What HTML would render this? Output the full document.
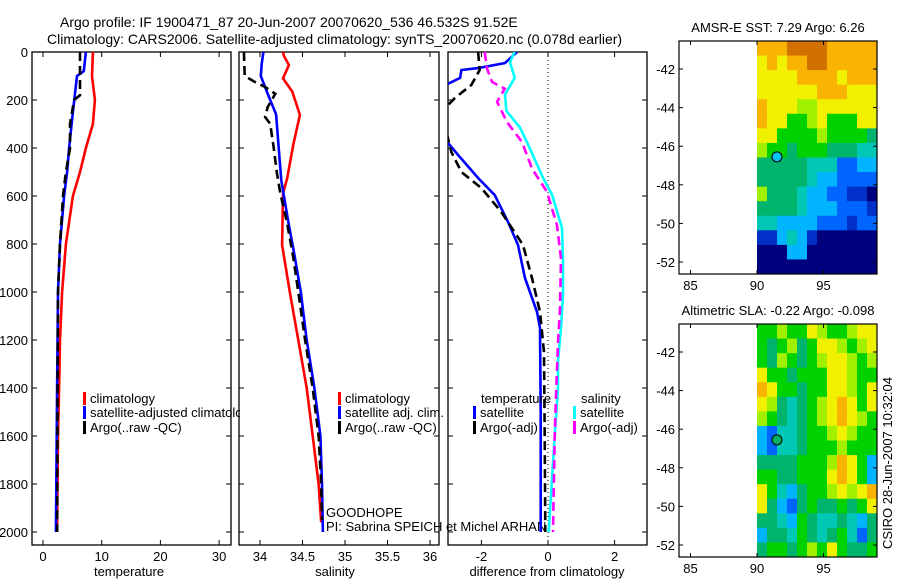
<!DOCTYPE html>
<html><head><meta charset="utf-8">
<style>
body{margin:0;background:#fff;}
svg{display:block;font-family:"Liberation Sans",sans-serif;}
text{fill:#000;}
</style></head>
<body>
<svg id="fig" width="900" height="580" viewBox="0 0 900 580" xmlns="http://www.w3.org/2000/svg">
<defs>
<clipPath id="c1"><rect x="32" y="52" width="199" height="493"/></clipPath>
<clipPath id="c2"><rect x="239" y="52" width="200" height="493"/></clipPath>
<clipPath id="c3"><rect x="448" y="52" width="199" height="493"/></clipPath>
<clipPath id="c1t"><rect x="32" y="0" width="208" height="580"/></clipPath>
</defs>
<text x="60" y="27" font-size="14">Argo profile: IF 1900471_87 20-Jun-2007 20070620_536 46.532S 91.52E</text>
<text x="47" y="44" font-size="14">Climatology: CARS2006. Satellite-adjusted climatology: synTS_20070620.nc (0.078d earlier)</text>
<g id="g1"></g>
<g id="g2"></g>
<g id="g3"></g>
<g id="m1"></g>
<g id="m2"></g>
<text transform="translate(892,463) rotate(-90)" text-anchor="middle" font-size="13">CSIRO 28-Jun-2007 10:32:04</text>
</svg>
<script>
// ---- data ----
const depthTicks=[0,200,400,600,800,1000,1200,1400,1600,1800,2000];
const tTicks=[0,10,20,30];
const sTicks=[34,34.5,35,35.5,36];
const sTickLabels=["34","34.5","35","35.5","36"];
const dTicks=[-2,0,2];

const tClimD=[0,100,200,300,400,500,600,800,1000,1200,1400,1600,2000];
const tClimV=[8.5,8.35,8.85,8.5,7.3,6.3,5.1,3.9,3.25,2.9,2.75,2.55,2.4];
const tSatD=[0,80,100,250,400,500,600,800,1000,1400,2000];
const tSatV=[7.3,6.95,5.8,5.1,4.45,4.1,3.6,2.9,2.55,2.4,2.2];
const tArgoD=[0,180,200,300,400,500,600,800,1000,2000];
const tArgoV=[6.3,6.3,5.3,4.6,4.6,3.9,3.4,2.9,2.55,2.4];

const sClimD=[0,15,54,110,165,262,388,526,590,804,1000,1200,1400,1600,1800,1960];
const sClimV=[34.27,34.28,34.34,34.27,34.38,34.47,34.39,34.32,34.27,34.26,34.35,34.45,34.55,34.62,34.69,34.72];
const sSatD=[0,50,100,174,260,400,535,700,854,1000,1200,1400,1600,1800,2000];
const sSatV=[34.04,34.02,34.01,34.09,34.19,34.22,34.25,34.33,34.41,34.48,34.55,34.64,34.71,34.73,34.74];
const sArgoD=[0,100,125,146,174,229,271,299,396,507,590,715,854,1000,1200,1400,1600,1800,1950];
const sArgoV=[33.81,33.82,33.94,34.06,34.18,34.09,34.06,34.12,34.16,34.2,34.24,34.32,34.39,34.45,34.53,34.62,34.69,34.72,34.73];

const dTSatD=[0,46,67,75,108,146,346,429,525,596,708,804,942,1083,1150,1500,2000];
const dTSatV=[-0.93,-1.29,-2.1,-2.6,-2.64,-3.2,-3.2,-2.7,-2.1,-1.6,-1.2,-0.9,-0.69,-0.33,-0.24,-0.22,-0.22];
const dTArgoD=[0,75,137,192,250,417,500,567,667,804,942,1083,1250,1600,2000];
const dTArgoV=[-2.1,-2.05,-2.3,-2.8,-3.2,-2.9,-2.6,-2.0,-1.4,-0.75,-0.48,-0.24,-0.12,-0.1,-0.08];
const dSSatD=[0,42,108,177,246,315,385,524,594,733,871,1010,1150,1288,1400,1600,2000];
const dSSatV=[-1.0,-1.14,-1.0,-1.29,-1.25,-0.84,-0.6,-0.15,0.12,0.42,0.45,0.45,0.39,0.3,0.3,0.2,0.02];
const dSArgoD=[0,70,125,153,208,292,375,486,583,722,861,1069,1208,1400,1600,2000];
const dSArgoV=[-1.9,-1.83,-1.68,-1.3,-1.53,-1.23,-0.78,-0.48,-0.03,0.27,0.39,0.36,0.3,0.25,0.2,0.15];

const sstGrid=[
[9,9,9,10,10,10,10,9,9,9,9,9],
[8,9,8,9,9,10,10,9,9,9,9,9],
[8,8,8,8,9,9,9,9,8,9,9,9],
[8,8,8,8,8,8,9,9,9,8,8,8],
[9,8,8,8,7,7,8,8,8,8,8,8],
[9,8,8,6,6,7,8,6,6,6,8,8],
[8,8,6,6,6,6,7,6,6,6,6,5],
[7,6,6,5,6,6,6,5,5,5,4,4],
[5,5,5,5,5,4,4,4,2,2,3,3],
[5,5,5,5,5,4,3,3,2,2,2,2],
[7,5,5,5,4,3,3,2,2,1,1,0],
[5,5,5,5,4,3,3,3,2,2,2,1],
[4,4,3,3,3,3,2,2,2,1,2,2],
[1,1,3,4,3,1,0,0,0,0,0,0],
[0,0,0,3,3,0,0,0,0,0,0,0],
[0,0,0,0,0,0,0,0,0,0,0,0]];
const slaGrid=[
[6,6,7,6,6,8,7,6,6,7,8,8],
[6,5,6,7,5,6,8,8,7,6,7,8],
[6,5,7,6,5,6,7,8,8,7,6,7],
[8,6,6,5,6,6,6,8,8,7,6,6],
[9,8,6,6,5,6,6,8,8,7,6,8],
[8,7,5,4,5,6,7,8,9,8,6,8],
[7,6,5,4,5,6,7,8,9,8,7,6],
[3,2,4,4,5,6,6,7,8,7,6,6],
[3,2,4,4,5,6,6,6,7,6,6,6],
[5,5,5,5,6,6,6,7,9,8,6,3],
[6,6,5,5,6,6,6,8,9,8,6,3],
[8,6,4,3,5,6,6,7,8,7,8,9],
[8,5,3,2,5,6,5,5,6,5,6,8],
[5,5,4,3,6,5,4,4,5,4,3,5],
[3,5,5,4,6,5,4,5,6,4,2,5],
[5,6,6,5,6,7,6,8,6,5,5,6]];
const latTicks=[-42,-44,-46,-48,-50,-52];
const lonTicks=[85,90,95];
const argoLon=91.5, argoLat=-46.55;

// ---- helpers ----
const NS="http://www.w3.org/2000/svg";
function mk(tag,attrs,parent){const e=document.createElementNS(NS,tag);for(const k in attrs)e.setAttribute(k,attrs[k]);parent.appendChild(e);return e;}
const yD=d=>52+d*0.24;
function panel(g,x0,x1,xf,ticks,labels,clip,showY){
  mk('rect',{x:x0,y:52,width:x1-x0,height:493,fill:'none',stroke:'#000','stroke-width':1.3},g);
  depthTicks.forEach(d=>{const y=yD(d);
    const t1=mk('line',{x1:x0,x2:x0+5,y1:y,y2:y,stroke:'#000'},g);
    
    
    mk('line',{x1:x1,x2:x1-5,y1:y,y2:y,stroke:'#000'},g);
    if(showY){const t=mk('text',{x:x0-4,y:y+5,'text-anchor':'end','font-size':13},g);t.textContent=d;
      
      }
  });
  ticks.forEach((v,i)=>{const x=xf(v);
    mk('line',{x1:x,x2:x,y1:545,y2:540,stroke:'#000'},g);
    mk('line',{x1:x,x2:x,y1:52,y2:57,stroke:'#000'},g);
    const t=mk('text',{x:x,y:561,'text-anchor':'middle','font-size':13},g);t.textContent=labels[i];
    
    
  });
}
function line(g,xf,D,V,color,dash,clip,name){
  const pts=D.map((d,i)=>xf(V[i]).toFixed(1)+','+yD(d).toFixed(1)).join(' ');
  const p=mk('polyline',{points:pts,fill:'none',stroke:color,'stroke-width':2.6,'clip-path':'url(#'+clip+')'},g);
  if(dash)p.setAttribute('stroke-dasharray','9,5');
  
  
}
function legend(g,x,y,color,label,name,clip){
  mk('rect',{x:x,y:y-11,width:3,height:13,fill:color},g);
  const t=mk('text',{x:x+7,y:y,'font-size':13},g);t.textContent=label;
  if(clip)t.setAttribute('clip-path','url(#'+clip+')');
  
  
}
function txt(g,x,y,s,anchor,name){const t=mk('text',{x:x,y:y,'font-size':13,'text-anchor':anchor||'start'},g);t.textContent=s;
  
  return t;}

// panel 1
const g1=document.getElementById('g1');
const xT=v=>43+v*5.87;
panel(g1,32,231,xT,tTicks,tTicks.map(String),'c1',true);
line(g1,xT,tClimD,tClimV,'#f00',false,'c1','temp-climatology-line');
line(g1,xT,tSatD,tSatV,'#00f',false,'c1','temp-satellite-line');
line(g1,xT,tArgoD,tArgoV,'#000',true,'c1','temp-argo-line');
legend(g1,83,403,'#f00','climatology','legend-climatology');
legend(g1,83,417,'#00f','satellite-adjusted climatology','legend-satellite','c1t');
legend(g1,83,432,'#000','Argo(..raw -QC)','legend-argo');
txt(g1,129,576,'temperature','middle','x-axis-title-temperature');

// panel 2
const g2=document.getElementById('g2');
const xS=v=>260+(v-34)*85;
panel(g2,239,439,xS,sTicks,sTickLabels,'c2',false);
line(g2,xS,sClimD,sClimV,'#f00',false,'c2','sal-climatology-line');
line(g2,xS,sSatD,sSatV,'#00f',false,'c2','sal-satellite-line');
line(g2,xS,sArgoD,sArgoV,'#000',true,'c2','sal-argo-line');
legend(g2,338,403,'#f00','climatology','legend-climatology-2');
legend(g2,338,417,'#00f','satellite adj. clim.','legend-satellite-2');
legend(g2,338,432,'#000','Argo(..raw -QC)','legend-argo-2');
txt(g2,326,517,'GOODHOPE','start','project-label');
txt(g2,326,531,'PI: Sabrina SPEICH et Michel ARHAN','start','pi-label');
txt(g2,335,576,'salinity','middle','x-axis-title-salinity');

// panel 3
const g3=document.getElementById('g3');
const xDf=v=>548+v*33.3;
panel(g3,448,647,xDf,dTicks,dTicks.map(String),'c3',false);
mk('line',{x1:548,x2:548,y1:52,y2:545,stroke:'#000','stroke-dasharray':'1,3'},g3);
line(g3,xDf,dTSatD,dTSatV,'#00f',false,'c3','diff-temp-satellite-line');
line(g3,xDf,dTArgoD,dTArgoV,'#000',true,'c3','diff-temp-argo-line');
line(g3,xDf,dSSatD,dSSatV,'#0ff',false,'c3','diff-sal-satellite-line');
line(g3,xDf,dSArgoD,dSArgoV,'#f0f',true,'c3','diff-sal-argo-line');
txt(g3,481,403,'temperature','start','legend-temperature-heading');
legend(g3,473,417,'#00f','satellite','legend-temp-satellite');
legend(g3,473,432,'#000','Argo(-adj)','legend-temp-argo');
txt(g3,581,403,'salinity','start','legend-salinity-heading');
legend(g3,573,417,'#0ff','satellite','legend-sal-satellite');
legend(g3,573,432,'#f0f','Argo(-adj)','legend-sal-argo');
txt(g3,547,576,'difference from climatology','middle','x-axis-title-difference');

// maps
const cmap=['#00007f','#0030c8','#0064ff','#00b4ff','#00c8b4','#00b46e','#00d200','#a0f000','#f0f000','#f8b400','#d27000'];
function map(id,grid,top,title){
  const g=document.getElementById(id);
  const x0=679,x1=877,y0=top,y1=top+233;
  const lonX=v=>757+(v-90)*13.3;
  const latY=v=>(top+28)+(-42-v)*19.3;
  const dx=120/grid[0].length, dy=233/grid.length;
  grid.forEach((row,r)=>row.forEach((v,c)=>{
    const rc=mk('rect',{x:(757+c*dx).toFixed(2),y:(y0+r*dy).toFixed(2),width:(dx+0.5).toFixed(2),height:(dy+0.5).toFixed(2),fill:cmap[v]},g);
    
    
  }));
  mk('rect',{x:x0,y:y0,width:x1-x0,height:y1-y0,fill:'none',stroke:'#000','stroke-width':1.2},g);
  latTicks.forEach(v=>{const y=latY(v);
    mk('line',{x1:x0,x2:x0+4,y1:y,y2:y,stroke:'#000'},g);
    mk('line',{x1:x1,x2:x1-4,y1:y,y2:y,stroke:'#000'},g);
    txt(g,x0-4,y+5,String(v),'end','lat-tick-label');});
  lonTicks.forEach(v=>{const x=lonX(v);
    mk('line',{x1:x,x2:x,y1:y1,y2:y1-4,stroke:'#000'},g);
    mk('line',{x1:x,x2:x,y1:y0,y2:y0+4,stroke:'#000'},g);
    txt(g,x,y1+16,String(v),'middle','lon-tick-label');});
  const c=mk('circle',{cx:lonX(argoLon),cy:latY(argoLat),r:5,fill:id==='m1'?'#00c0f0':'#00b060',stroke:'#000','stroke-width':1},g);
  
  
  txt(g,778,top-9,title,'middle','map-title');
}
map('m1',sstGrid,41,'AMSR-E SST: 7.29 Argo: 6.26');
map('m2',slaGrid,324,'Altimetric SLA: -0.22 Argo: -0.098');
</script>
</body></html>
